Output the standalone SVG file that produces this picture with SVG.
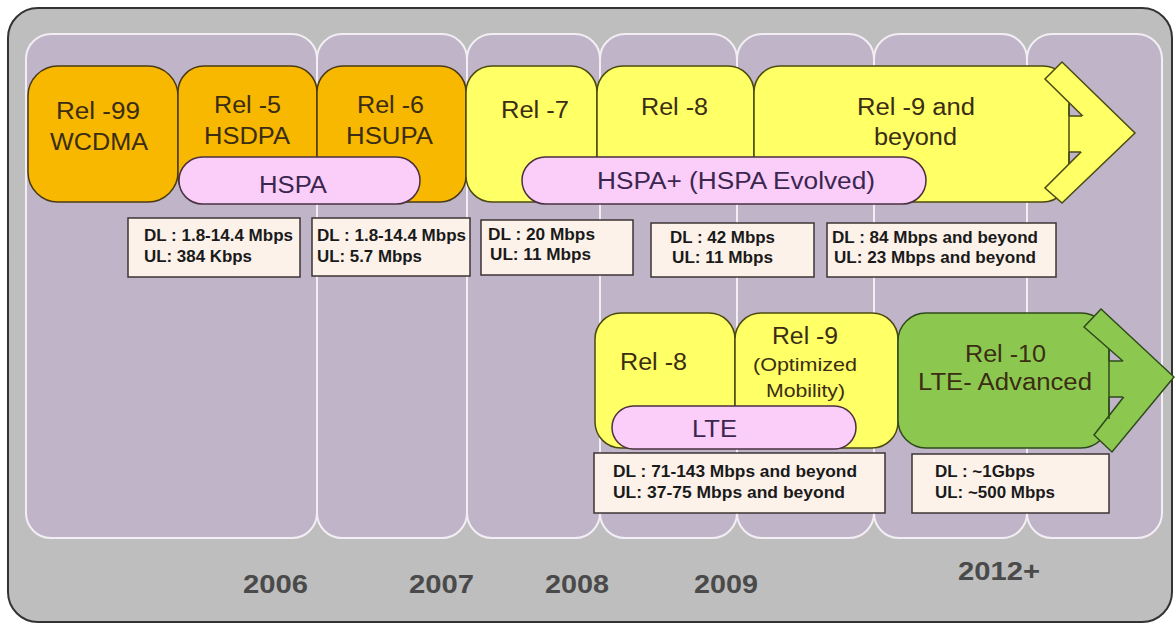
<svg xmlns="http://www.w3.org/2000/svg" width="1175" height="625" viewBox="0 0 1175 625">
<style>
.col{fill:#c0b4c9;stroke:#f3eef4;stroke-width:2}
.org{fill:#f8b800;stroke:#4a3a10;stroke-width:1.5}
.yel{fill:#ffff66;stroke:#4a4a10;stroke-width:1.5}
.grn{fill:#8cc850;stroke:#2f4a1a;stroke-width:1.5}
.pnk{fill:#fbcdf9;stroke:#4a3040;stroke-width:1.5}
.info{fill:#fdf2ea;stroke:#3d3535;stroke-width:1.5}
.ln{fill:none;stroke-width:1.5}
.lbl{font-family:"Liberation Sans",Arial,sans-serif;font-size:23px;fill:#3b2d14;text-anchor:middle}
.plbl{font-family:"Liberation Sans",Arial,sans-serif;font-size:23px;fill:#3b2650;text-anchor:middle}
.sm{font-size:19px}
.it{font-family:"Liberation Sans",Arial,sans-serif;font-size:16px;font-weight:bold;fill:#1a1a1a}
.yr{font-family:"Liberation Sans",Arial,sans-serif;font-size:26px;font-weight:bold;fill:#4a4a4a;text-anchor:middle}
</style>
<rect id="frame" x="8" y="8" width="1164" height="614" rx="30" fill="#bebebe" stroke="#333" stroke-width="2"/>
<g id="columns">
<rect class="col" x="26" y="34" width="291" height="504" rx="25"/>
<rect class="col" x="317" y="34" width="150" height="504" rx="25"/>
<rect class="col" x="467" y="34" width="133" height="504" rx="25"/>
<rect class="col" x="600" y="34" width="137" height="504" rx="25"/>
<rect class="col" x="737" y="34" width="137" height="504" rx="25"/>
<rect class="col" x="874" y="34" width="153" height="504" rx="25"/>
<rect class="col" x="1027" y="34" width="135" height="504" rx="25"/>
</g>
<g id="connectors"/>
<g id="rel99">
<rect class="org" x="28" y="66" width="150" height="136" rx="30"/>
<text class="lbl" x="98" y="119" textLength="84" lengthAdjust="spacingAndGlyphs">Rel -99</text>
<text class="lbl" x="99" y="150" textLength="98" lengthAdjust="spacingAndGlyphs">WCDMA</text>
</g>
<g id="rel5">
<rect class="org" x="178" y="66" width="139" height="136" rx="26"/>
<text class="lbl" x="247.5" y="113" textLength="67" lengthAdjust="spacingAndGlyphs">Rel -5</text>
<text class="lbl" x="247" y="144" textLength="86" lengthAdjust="spacingAndGlyphs">HSDPA</text>
</g>
<g id="rel6">
<rect class="org" x="317" y="66" width="149" height="136" rx="26"/>
<text class="lbl" x="390.5" y="113" textLength="67" lengthAdjust="spacingAndGlyphs">Rel -6</text>
<text class="lbl" x="389.5" y="144" textLength="87" lengthAdjust="spacingAndGlyphs">HSUPA</text>
</g>
<g id="hspa">
<rect class="pnk" x="179" y="157" width="241" height="47" rx="23.5"/>
<text class="plbl" x="293" y="193" textLength="68" lengthAdjust="spacingAndGlyphs">HSPA</text>
</g>
<g id="rel7">
<rect class="yel" x="466" y="66" width="131" height="136" rx="26"/>
<text class="lbl" x="535" y="118" textLength="68" lengthAdjust="spacingAndGlyphs">Rel -7</text>
</g>
<g id="rel8">
<rect class="yel" x="597" y="66" width="157" height="136" rx="26"/>
<text class="lbl" x="674.5" y="115" textLength="67" lengthAdjust="spacingAndGlyphs">Rel -8</text>
</g>
<g id="rel9beyond">
<rect class="yel" x="754" y="66" width="315" height="136" rx="26"/>
<polygon class="yel" points="1062,62 1135,133 1062,203 1045,188 1100,133 1045,79"/>
<polygon fill="#ffff66" points="1068,116 1086,116 1104,133 1086,152 1068,152"/>
<path class="ln" stroke="#4a4a10" d="M1069,104 V164 M1069,116 H1082 M1069,152 H1081"/>
<text class="lbl" x="916" y="115" textLength="118" lengthAdjust="spacingAndGlyphs">Rel -9 and</text>
<text class="lbl" x="915.5" y="145" textLength="83" lengthAdjust="spacingAndGlyphs">beyond</text>
</g>
<g id="hspaplus">
<rect class="pnk" x="522" y="157" width="404" height="47" rx="23.5"/>
<text class="plbl" x="736" y="189" textLength="278" lengthAdjust="spacingAndGlyphs">HSPA+ (HSPA Evolved)</text>
</g>
<g id="info1">
<rect class="info" x="128" y="218" width="172" height="59"/>
<text class="it" x="144" y="241" textLength="149" lengthAdjust="spacingAndGlyphs">DL : 1.8-14.4 Mbps</text>
<text class="it" x="144" y="262" textLength="108" lengthAdjust="spacingAndGlyphs">UL: 384 Kbps</text>
</g>
<g id="info2">
<rect class="info" x="312" y="218" width="158" height="58"/>
<text class="it" x="317" y="241" textLength="149" lengthAdjust="spacingAndGlyphs">DL : 1.8-14.4 Mbps</text>
<text class="it" x="317" y="262" textLength="105" lengthAdjust="spacingAndGlyphs">UL: 5.7 Mbps</text>
</g>
<g id="info3">
<rect class="info" x="481" y="220" width="152" height="55"/>
<text class="it" x="488" y="240" textLength="107" lengthAdjust="spacingAndGlyphs">DL : 20 Mbps</text>
<text class="it" x="490" y="260" textLength="101" lengthAdjust="spacingAndGlyphs">UL: 11 Mbps</text>
</g>
<g id="info4">
<rect class="info" x="651" y="223" width="163" height="54"/>
<text class="it" x="670" y="243" textLength="105" lengthAdjust="spacingAndGlyphs">DL : 42 Mbps</text>
<text class="it" x="672" y="263" textLength="101" lengthAdjust="spacingAndGlyphs">UL: 11 Mbps</text>
</g>
<g id="info5">
<rect class="info" x="827" y="223" width="229" height="54"/>
<text class="it" x="832" y="243" textLength="206" lengthAdjust="spacingAndGlyphs">DL : 84 Mbps and beyond</text>
<text class="it" x="834" y="263" textLength="202" lengthAdjust="spacingAndGlyphs">UL: 23 Mbps and beyond</text>
</g>
<g id="lte-rel8">
<rect class="yel" x="595" y="313" width="140" height="135" rx="26"/>
<text class="lbl" x="653.5" y="370" textLength="67" lengthAdjust="spacingAndGlyphs">Rel -8</text>
</g>
<g id="lte-rel9">
<rect class="yel" x="735" y="313" width="163" height="135" rx="26"/>
<text class="lbl" x="805" y="344" textLength="66" lengthAdjust="spacingAndGlyphs">Rel -9</text>
<text class="lbl sm" x="805" y="371" textLength="104" lengthAdjust="spacingAndGlyphs">(Optimized</text>
<text class="lbl sm" x="805.5" y="397" textLength="79" lengthAdjust="spacingAndGlyphs">Mobility)</text>
</g>
<g id="lte">
<rect class="pnk" x="612" y="406" width="244" height="43" rx="21.5"/>
<text class="plbl" x="714.5" y="437" textLength="45" lengthAdjust="spacingAndGlyphs">LTE</text>
</g>
<g id="rel10">
<rect class="grn" x="898" y="313" width="211" height="135" rx="28"/>
<polygon class="grn" points="1101,309 1174,377 1112,452 1094,435 1140,376 1084,327"/>
<polygon fill="#8cc850" points="1108,361 1127,361 1144,376 1127,397 1108,397"/>
<path class="ln" stroke="#2f4a1a" d="M1109,349 V419 M1109,361 H1123 M1109,397 H1123"/>
<text class="lbl" x="1005.5" y="362" textLength="81" lengthAdjust="spacingAndGlyphs">Rel -10</text>
<text class="lbl" x="1005" y="390" textLength="174" lengthAdjust="spacingAndGlyphs">LTE- Advanced</text>
</g>
<g id="info6">
<rect class="info" x="594" y="453" width="291" height="60"/>
<text class="it" x="613" y="477" textLength="244" lengthAdjust="spacingAndGlyphs">DL : 71-143 Mbps and beyond</text>
<text class="it" x="613" y="498" textLength="232" lengthAdjust="spacingAndGlyphs">UL: 37-75 Mbps and beyond</text>
</g>
<g id="info7">
<rect class="info" x="912" y="454" width="197" height="59"/>
<text class="it" x="935" y="477" textLength="100" lengthAdjust="spacingAndGlyphs">DL : ~1Gbps</text>
<text class="it" x="935" y="498" textLength="120" lengthAdjust="spacingAndGlyphs">UL: ~500 Mbps</text>
</g>
<g id="years">
<text class="yr" x="275.5" y="593" textLength="65" lengthAdjust="spacingAndGlyphs">2006</text>
<text class="yr" x="441.5" y="593" textLength="65" lengthAdjust="spacingAndGlyphs">2007</text>
<text class="yr" x="577" y="593" textLength="64" lengthAdjust="spacingAndGlyphs">2008</text>
<text class="yr" x="726" y="593" textLength="64" lengthAdjust="spacingAndGlyphs">2009</text>
<text class="yr" x="999" y="580" textLength="82" lengthAdjust="spacingAndGlyphs">2012+</text>
</g>
</svg>
